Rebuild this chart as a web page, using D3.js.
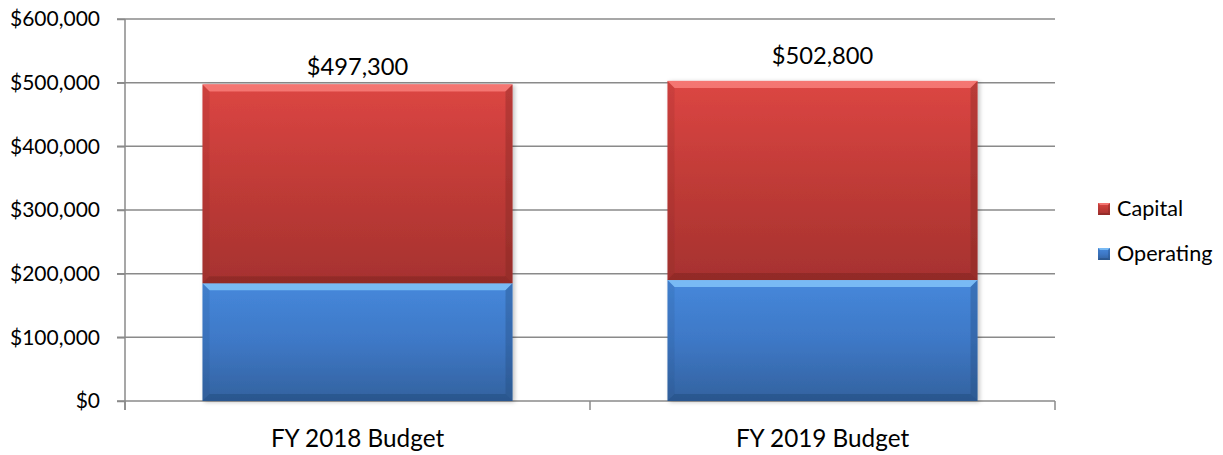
<!DOCTYPE html>
<html>
<head>
<meta charset="utf-8">
<script src="https://cdn.jsdelivr.net/npm/d3@7"></script>
<style>
  html, body { margin: 0; padding: 0; background: #fff; }
  svg { display: block; font-family: Lato, "Open Sans", sans-serif; }
</style>
</head>
<body>
<svg id="chart" width="1223" height="455"></svg>
<script>
// Budget by fiscal year, split into operating and capital spending
const categories = ["FY 2018 Budget", "FY 2019 Budget"];
const operating = [185000, 190000];
const capital = [312300, 312800];
const seriesNames = ["Capital", "Operating"];
const yTicks = [0, 100000, 200000, 300000, 400000, 500000, 600000];

const svg = d3.select("#chart");
const plot = { left: 125, right: 1055, top: 19, bottom: 401 };

const x = d3.scaleBand()
  .domain(categories)
  .range([plot.left, plot.right])
  .paddingInner(1 / 3)
  .paddingOuter(1 / 6);

const y = d3.scaleLinear()
  .domain([0, 600000])
  .range([plot.bottom, plot.top]);

const money = d => "$" + d3.format(",")(d);
const gridColor = "#8a8a8a";

// gradients and shadow
const defs = svg.append("defs");
const palettes = {
  Capital:   { top: "#dc4643", mid: "#c03b37", bot: "#a6322f", light: "#ff8a86", dark: "#7a2421" },
  Operating: { top: "#4688db", mid: "#3e78c6", bot: "#33629f", light: "#8fd0ff", dark: "#234a7a" }
};
Object.entries(palettes).forEach(([name, p]) => {
  const g = defs.append("linearGradient")
    .attr("id", "grad-" + name)
    .attr("x1", 0).attr("y1", 0).attr("x2", 0).attr("y2", 1);
  g.append("stop").attr("offset", "0%").attr("stop-color", p.top);
  g.append("stop").attr("offset", "50%").attr("stop-color", p.mid);
  g.append("stop").attr("offset", "100%").attr("stop-color", p.bot);
});
const shadow = defs.append("filter").attr("id", "shadow")
  .attr("x", "-5%").attr("y", "-5%").attr("width", "115%").attr("height", "115%");
shadow.append("feDropShadow")
  .attr("dx", 2).attr("dy", 1).attr("stdDeviation", 2)
  .attr("flood-color", "#000").attr("flood-opacity", 0.25);

// gridlines
svg.append("g")
  .selectAll("line")
  .data(yTicks)
  .join("line")
  .attr("x1", plot.left - 8).attr("x2", plot.right)
  .attr("y1", d => y(d)).attr("y2", d => y(d))
  .attr("stroke", gridColor).attr("stroke-width", 1.5);

// y axis
const yAxis = svg.append("g")
  .attr("transform", `translate(${plot.left},0)`)
  .call(d3.axisLeft(y).tickValues(yTicks).tickFormat(money).tickSize(8).tickPadding(17));
yAxis.select(".domain").remove();
yAxis.selectAll(".tick line").attr("stroke", gridColor).attr("stroke-width", 1.5);
yAxis.selectAll(".tick text")
  .attr("fill", "#000")
  .style("font-size", "21px")
  .style("font-family", "Lato, 'Open Sans', sans-serif");

// vertical axis line, running down past the baseline
svg.append("line")
  .attr("x1", plot.left).attr("x2", plot.left)
  .attr("y1", plot.top).attr("y2", plot.bottom + 9)
  .attr("stroke", gridColor).attr("stroke-width", 1.5);

// category boundary ticks
const boundaries = [plot.left, (plot.left + plot.right) / 2, plot.right];
svg.append("g")
  .selectAll("line")
  .data(boundaries)
  .join("line")
  .attr("x1", d => d).attr("x2", d => d)
  .attr("y1", plot.bottom).attr("y2", plot.bottom + 9)
  .attr("stroke", gridColor).attr("stroke-width", 1.5);

// category labels
svg.append("g")
  .selectAll("text")
  .data(categories)
  .join("text")
  .attr("x", d => x(d) + x.bandwidth() / 2)
  .attr("y", 447)
  .attr("text-anchor", "middle")
  .style("font-size", "24.3px")
  .attr("fill", "#000")
  .text(d => d);

// bevelled bar segment
function bevelBar(g, x0, y0, w, h, name, b) {
  const p = palettes[name];
  g.append("rect")
    .attr("x", x0).attr("y", y0).attr("width", w).attr("height", h)
    .attr("fill", `url(#grad-${name})`);
  const poly = (pts, fill, op) => g.append("polygon")
    .attr("points", pts.map(q => q.join(",")).join(" "))
    .attr("fill", fill).attr("fill-opacity", op);
  poly([[x0, y0], [x0 + w, y0], [x0 + w - b, y0 + b], [x0 + b, y0 + b]], p.light, 0.7);
  poly([[x0, y0 + h], [x0 + w, y0 + h], [x0 + w - b, y0 + h - b], [x0 + b, y0 + h - b]], p.dark, 0.45);
  poly([[x0, y0], [x0 + b, y0 + b], [x0 + b, y0 + h - b], [x0, y0 + h]], p.dark, 0.15);
  poly([[x0 + w, y0], [x0 + w - b, y0 + b], [x0 + w - b, y0 + h - b], [x0 + w, y0 + h]], p.dark, 0.35);
}

// stacked bars: operating at the base, capital on top
const bars = svg.append("g").attr("filter", "url(#shadow)");
categories.forEach((c, i) => {
  const bx = x(c), bw = x.bandwidth();
  const op = operating[i], cap = capital[i];
  bevelBar(bars.append("g"), bx, y(op), bw, y(0) - y(op), "Operating", 7);
  bevelBar(bars.append("g"), bx, y(op + cap), bw, y(op) - y(op + cap), "Capital", 7);
});

// total labels above each bar
const totals = categories.map((c, i) => operating[i] + capital[i]);
const labelLift = [9, 17];
svg.append("g")
  .selectAll("text")
  .data(categories)
  .join("text")
  .attr("x", d => x(d) + x.bandwidth() / 2)
  .attr("y", (d, i) => y(totals[i]) - labelLift[i])
  .attr("text-anchor", "middle")
  .style("font-size", "23.7px")
  .attr("fill", "#000")
  .text((d, i) => money(totals[i]));

// legend
const legend = svg.append("g");
const legendRows = [{ name: "Capital", y: 209 }, { name: "Operating", y: 254 }];
legendRows.forEach(r => {
  bevelBar(legend.append("g"), 1098, r.y - 6, 12, 12, r.name, 2);
  legend.append("text")
    .attr("x", 1117).attr("y", r.y + 7)
    .style("font-size", "21.6px")
    .attr("fill", "#000")
    .text(r.name);
});
</script>
</body>
</html>
